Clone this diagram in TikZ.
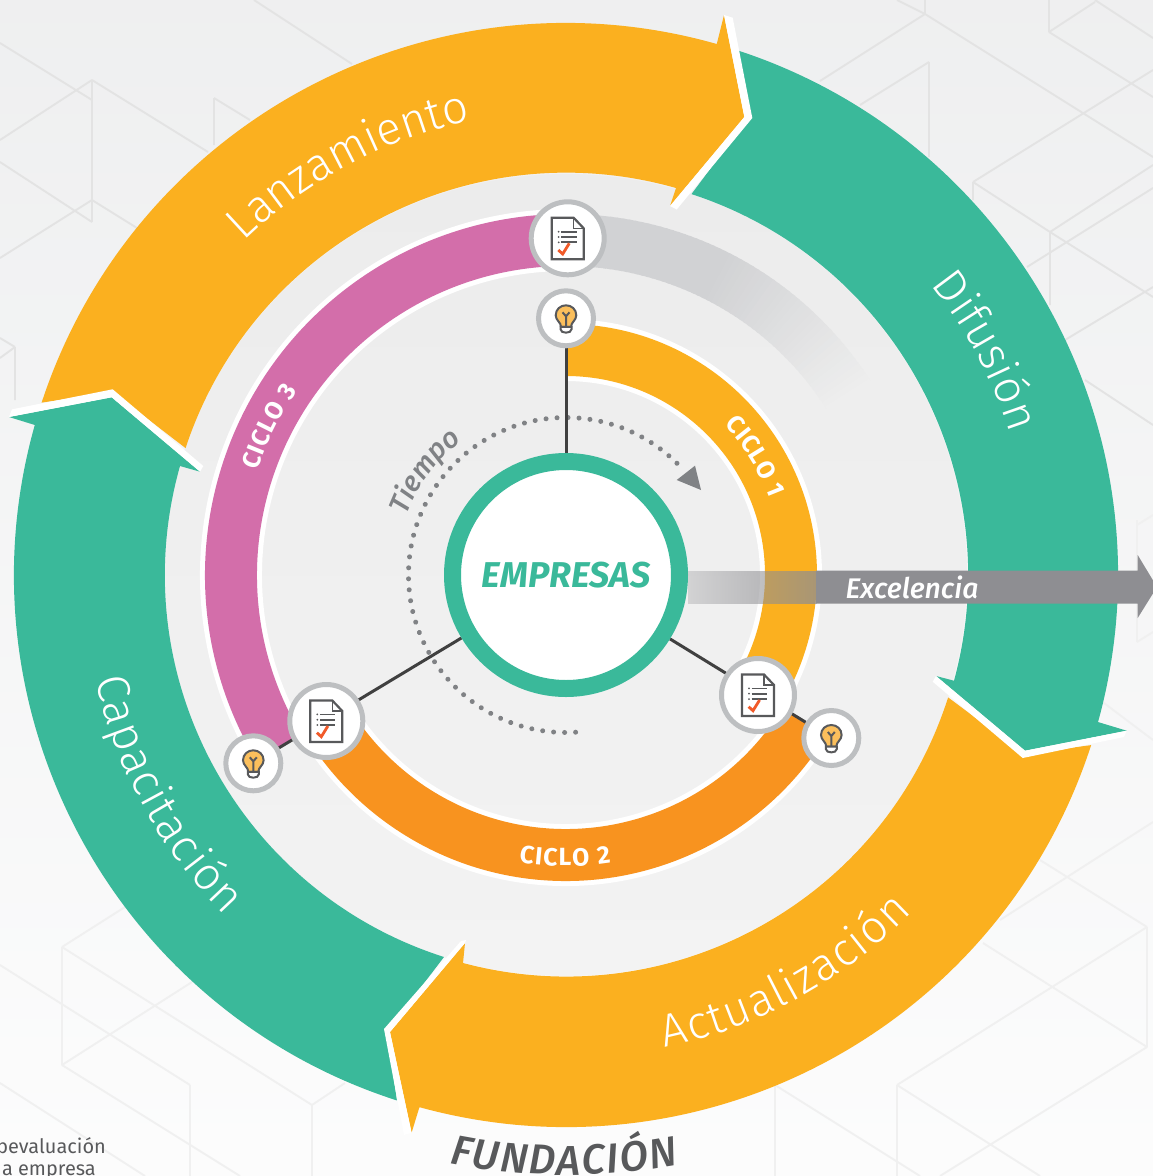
\documentclass[tikz,border=0pt]{standalone}
\usepackage{fontspec}
\setmainfont{Fira Sans}
\newfontfamily\lightf{Fira Sans Light}
\newfontfamily\medf{Fira Sans Medium}[ItalicFont={Fira Sans Medium Italic}]
\usetikzlibrary{decorations.text,fadings,shadings}
\definecolor{orng}{HTML}{FBB01F}
\definecolor{teal2}{HTML}{3AB99A}
\definecolor{pink2}{HTML}{D36EAA}
\definecolor{dorng}{HTML}{F8931F}
\definecolor{gcy}{HTML}{D1D2D4}
\definecolor{discc}{HTML}{ECECEC}
\definecolor{discb}{HTML}{F3F3F3}
\definecolor{discf}{HTML}{EEEEEE}
\definecolor{exc}{HTML}{8E8E92}
\definecolor{ringg}{HTML}{BDBFC1}
\definecolor{dk}{HTML}{58595B}
\definecolor{tg}{HTML}{808285}
\definecolor{bgtop}{HTML}{E9EAEB}
\definecolor{redc}{HTML}{F15A29}
\definecolor{bulbc}{HTML}{FBBF5C}
\pgfdeclarelayer{back}
\pgfdeclarelayer{lines}
\pgfsetlayers{back,lines,main}
\tikzfading[name=excfade,left color=transparent!100,right color=transparent!0]
\newcommand\arctext[5]{\path[decorate,decoration={text along path,text={|#1|#2},text align={fit to path}}] ([shift={(#4:#3)}]C) arc[start angle=#4,end angle=#5,radius=#3];}
\newcommand\band[4]{%
  \draw[white,line width=62bp] ([shift={(#2:#1)}]C) arc[start angle=#2,end angle=#3,radius=#1];
  \draw[#4,line width=52bp] ([shift={(#2:#1)}]C) arc[start angle=#2,end angle=#3,radius=#1];}
\tikzset{
  bgtopl/.style={draw=#1,line width=1.9bp},
  docn/.style={circle,fill=white,draw=ringg,line width=5bp,minimum size=73bp,inner sep=0pt},
  bulbn/.style={circle,fill=white,draw=ringg,line width=5bp,minimum size=55bp,inner sep=0pt},
  spoke/.style={draw=black!75,line width=3bp},
  docpic/.pic={
    \draw[dk,line width=2.2bp,line join=miter] (-16,-20.5) -- (6,-20.5) -- (16,-10) -- (16,21) -- (-16,21) -- cycle;
    \draw[dk,line width=1.3bp] (6,-20.5) -- (6,-10) -- (16,-10);
    \foreach \yy in {-6.6,-1.3,4}{
      \draw[dk,line width=1.8bp] (-6.5,\yy) -- (9,\yy);
      \fill[dk] (-9,\yy) circle[radius=1];
    }
    \draw[redc,line width=2.8bp] (-9.4,11.7) -- (-5,15.7) -- (1.6,5);
  },
  bulbpic/.pic={
    \draw[dk,line width=2bp,fill=bulbc] (-5,8.5) .. controls (-5,4) and (-10.3,2) .. (-10.3,-3)
       .. controls (-10.3,-9) and (-5.5,-13) .. (0,-13)
       .. controls (5.5,-13) and (10.3,-9) .. (10.3,-3)
       .. controls (10.3,2) and (5,4) .. (5,8.5) -- cycle;
    \draw[dk,line width=2bp] (-3.5,-6) -- (0,-2) -- (3.5,-6) (0,-2) -- (0,8);
    \draw[dk,line width=2bp,fill=white] (-5.5,8.5) -- (-5.5,11) .. controls (-5.5,15.5) and (5.5,15.5) .. (5.5,11) -- (5.5,8.5) -- cycle;
  }
}
\begin{document}
\begin{tikzpicture}[x=1bp,y=-1bp]
\useasboundingbox (0,0) rectangle (1153,1176);
\coordinate (C) at (566,575);
\begin{pgfonlayer}{back}
\begin{scope}
\clip (0,0) rectangle (1153,1176);
\shade[top color=bgtop,bottom color=white] (0,-475) rectangle (1153,1425);
% faint background lines, upper part
\draw[bgtopl={black!11}]
 (0,43)--(92,100) (92,80)--(92,222) (0,140)--(92,80) (92,80)--(208,152)
 (0,162)--(92,222) (0,258)--(92,200) (92,200)--(137,228)
 (214,98)--(214,145) (214,98)--(250,120) (254,0)--(352,64)
 (0,358)--(15,347) (0,338)--(15,347) (15,347)--(15,400)
 (820,81)--(925,14) (925,0)--(925,14) (897,0)--(925,14) (925,14)--(1153,157)
 (860,105)--(929,62) (929,62)--(929,157)
 (973,182)--(1153,70) (973,182)--(973,200) (973,182)--(1050,232)
 (1050,232)--(1153,165) (1050,232)--(1050,305) (1050,232)--(1153,297)
 (1027,267)--(1153,188) (1065,340)--(1153,287)
 (1049,0)--(1049,32) (1049,32)--(1095,2) (1049,32)--(1153,97) (1095,0)--(1153,38)
 (1085,380)--(1153,425);
\draw[bgtopl={black!6}]
 (1137,520)--(1137,642) (1137,642)--(1153,632) (1137,525)--(1153,515)
 (1100,700)--(1153,740) (62,947)--(125,907) (62,947)--(62,1065) (62,947)--(312,1105)
 (62,1065)--(240,1176) (62,1065)--(192,982) (0,965)--(190,1085) (190,1085)--(190,1176)
 (0,1083)--(145,1176) (312,1105)--(312,1176) (312,1105)--(345,1083)
 (1147,927)--(1147,1047) (1147,927)--(897,1085) (1147,1047)--(940,1176)
 (1147,1047)--(983,943) (1147,927)--(1040,860) (1153,822)--(1000,920)
 (897,1085)--(897,1176) (897,1085)--(1040,1176)
 (775,1085)--(775,1176) (775,1085)--(920,1176);
\end{scope}
% inner disc
\shade[top color=discc,bottom color=discb] (C) circle[radius=401];
% gray continuation of the third cycle
\foreach \a in {270,271,...,327}{
  \pgfmathsetmacro\p{\a<296?100:100*(327-\a)/31}
  \pgfmathsetmacro\e{\a+1.4}
  \draw[gcy!\p!discf,line width=52bp] ([shift={(\a:335)}]C) arc[start angle=\a,end angle=\e,radius=335];
}
% cycles
\band{225}{270}{392}{orng}
\band{280}{31.5}{148.8}{dorng}
\band{335}{148.8}{270}{pink2}
% time arc
\draw[tg,line width=5bp,line cap=round,dash pattern=on 0.01bp off 11bp] ([shift={(86.5:157.5)}]C) arc[start angle=86.5,end angle=317.5,radius=157.5];
\fill[tg] (695,465.7) -- (676.7,480) -- (701,490) -- cycle;
% outer ring
\fill[orng] ([shift={(198.2:552)}]C) arc[start angle=198.2,end angle=285.85,radius=552]
  -- (724,15) -- (744.3,117) -- (670,206) -- (676,188)
  arc[start angle=285.87,end angle=198.26,radius=401] -- (112.7,392) -- cycle;
\fill[teal2] ([shift={(288.24:552)}]C) arc[start angle=288.24,end angle=375.45,radius=552]
  -- (1126.7,730.7) -- (1025,750.7) -- (936,676) -- (954,680.7)
  arc[start angle=375.24,end angle=288.07,radius=401] -- (748,118) -- cycle;
\fill[orng] ([shift={(17.95:552)}]C) arc[start angle=17.95,end angle=105.4,radius=552]
  -- (411.6,1132.7) -- (390,1032) -- (465,943) -- (463,963)
  arc[start angle=104.9,end angle=17.7,radius=401] -- (1024,754) -- cycle;
\fill[teal2] ([shift={(107.84:552)}]C) arc[start angle=107.84,end angle=195.77,radius=552]
  -- (9,417) -- (111.7,397.3) -- (200,471.7) -- (180,466)
  arc[start angle=195.77,end angle=107.7,radius=401] -- (387,1032) -- cycle;
% white chevrons
\fill[white] (724,15) -- (732.7,17.7) -- (752.3,118) -- (676.7,209.5) -- (670,206) -- (744.3,117) -- cycle;
\fill[white] (936,676) -- (1025,750.7) -- (1126.7,730.7) -- (1124,737) -- (1022.7,758) -- (932.7,681.7) -- cycle;
\fill[white] (411.6,1132.7) -- (390,1032) -- (465,943) -- (466,940) -- (461,941) -- (384,1029) -- (404,1135) -- cycle;
\fill[white] (12,409.3) -- (112.7,389.3) -- (203.3,466) -- (200,471.7) -- (111.7,397.3) -- (9,417) -- cycle;
\end{pgfonlayer}

% nodes
\node[circle,fill=white,draw=teal2,line width=17bp,minimum size=227bp,inner sep=0pt,text=teal2,font=\fontsize{36}{36}\selectfont\bfseries\itshape] (emp) at (C) {EMPRESAS};
\node[bulbn] (b1) at (566,318.3) {};
\node[bulbn] (b2) at (831.3,738) {};
\node[bulbn] (b3) at (253.3,763.3) {};
\node[docn] (d1) at (567.7,238.3) {};
\node[docn] (d2) at (758,695) {};
\node[docn] (d3) at (326.3,721) {};
\pic at (b1) {bulbpic};
\pic at (b2) {bulbpic};
\pic at (b3) {bulbpic};
\pic at (d1) {docpic};
\pic at (d2) {docpic};
\pic at (d3) {docpic};
\begin{pgfonlayer}{lines}
\draw[spoke] (emp) -- (b1);
\draw[spoke] (emp) -- (b2);
\draw[spoke] (emp) -- (b3);
\end{pgfonlayer}

% Excelencia arrow
\begin{scope}
\clip (688,565) rectangle (816.5,610);
\fill[exc,path fading=excfade] (603,570.7) rectangle (887,603.7);
\end{scope}
\fill[exc] (816,570.7) -- (1137.7,570.7) -- (1137.7,555) -- (1157,587) -- (1137.7,618) -- (1137.7,603.7) -- (816,603.7) -- cycle;
\node[text=white,font=\fontsize{28.5}{28.5}\selectfont\medf\itshape,inner sep=0pt] (excel) at (912,587) {Excelencia};

% ring labels
\arctext{\color{white}\lightf\fontsize{46}{46}\selectfont}{Lanzamiento}{464}{225.9}{257.5}
\arctext{\color{white}\lightf\fontsize{46}{46}\selectfont}{Difusión}{466}{321.5}{341}
\arctext{\color{white}\lightf\fontsize{46}{46}\selectfont}{Actualización}{483}{78.2}{44.2}
\arctext{\color{white}\lightf\fontsize{46}{46}\selectfont}{Capacitación}{482}{167.5}{135}
% cycle labels
\arctext{\color{white}\bfseries\fontsize{25}{25}\selectfont}{CICLO 1}{218}{316.5}{339.5}
\arctext{\color{white}\bfseries\fontsize{25}{25}\selectfont}{CICLO 2}{291}{99.3}{81.1}
\arctext{\color{white}\bfseries\fontsize{25}{25}\selectfont}{CICLO 3}{326}{198.7}{214.5}
\arctext{\color{tg}\medf\itshape\fontsize{28.5}{28.5}\selectfont}{Tiempo}{170}{200.5}{232}
\arctext{\color{dk}\medf\itshape\fontsize{42}{42}\selectfont}{FUNDACIÓN}{600}{101.2}{79.2}
% cut-off text at bottom left
\node[anchor=base east,text=dk,font=\fontsize{20}{20}\selectfont,inner sep=0pt] (t1) at (106,1153) {bevaluación};
\node[anchor=base east,text=dk,font=\fontsize{20}{20}\selectfont,inner sep=0pt] (t2) at (96,1175) {a empresa};
\end{tikzpicture}
\end{document}
